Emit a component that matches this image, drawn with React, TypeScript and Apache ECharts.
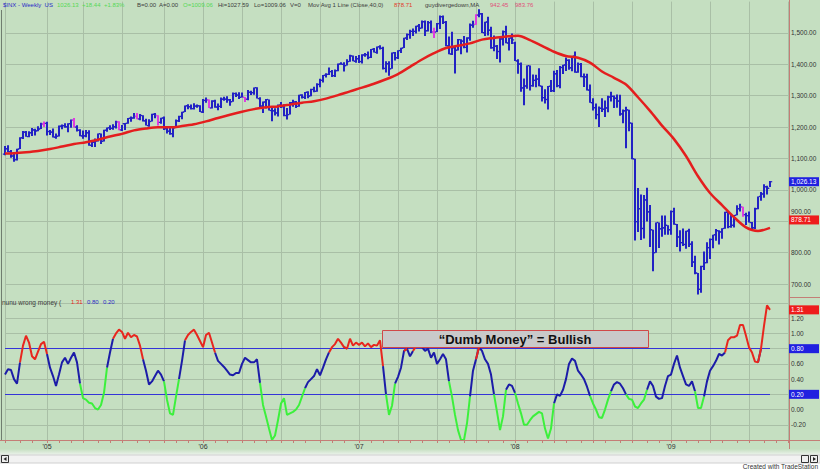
import React, { useEffect, useRef } from "react";
import * as echarts from "echarts";

// Weekly S&P 500 ($INX) bars, [open, high, low, close], week 0 = 1 Oct 2004
const bars2004 = [
  [1114, 1140, 1110, 1131], [1131, 1142, 1120, 1122], [1122, 1127, 1102, 1108], [1108, 1114, 1090, 1096],
  [1096, 1131, 1094, 1130], [1130, 1168, 1130, 1166], [1166, 1188, 1162, 1184], [1184, 1188, 1169, 1170],
  [1170, 1187, 1168, 1182], [1182, 1197, 1172, 1191], [1191, 1195, 1173, 1188], [1188, 1203, 1187, 1194],
  [1194, 1214, 1194, 1210], [1210, 1218, 1200, 1212],
];
const bars2005 = [
  [1212, 1217, 1173, 1186], [1186, 1191, 1175, 1184], [1184, 1196, 1167, 1168], [1168, 1180, 1163, 1171],
  [1171, 1205, 1170, 1203], [1203, 1208, 1193, 1205], [1205, 1212, 1198, 1201], [1201, 1212, 1184, 1211],
  [1211, 1224, 1198, 1222], [1222, 1229, 1199, 1200], [1200, 1206, 1186, 1190], [1190, 1193, 1171, 1172],
  [1172, 1189, 1163, 1172], [1172, 1191, 1168, 1182], [1182, 1190, 1141, 1142], [1142, 1159, 1137, 1152],
  [1152, 1164, 1137, 1156], [1156, 1180, 1154, 1179], [1179, 1180, 1146, 1155], [1155, 1192, 1154, 1190],
  [1190, 1199, 1185, 1198], [1198, 1206, 1191, 1196], [1196, 1209, 1192, 1201], [1201, 1220, 1196, 1217],
  [1217, 1219, 1190, 1191], [1191, 1207, 1188, 1211], [1211, 1213, 1191, 1212], [1212, 1229, 1211, 1228],
  [1228, 1234, 1217, 1229], [1229, 1245, 1227, 1234], [1234, 1245, 1225, 1226], [1226, 1242, 1222, 1237],
  [1237, 1238, 1218, 1220], [1220, 1227, 1205, 1205], [1205, 1225, 1201, 1218], [1218, 1243, 1218, 1241],
  [1241, 1245, 1228, 1237], [1237, 1238, 1205, 1215], [1215, 1230, 1211, 1229], [1229, 1234, 1191, 1195],
  [1195, 1197, 1180, 1187], [1187, 1199, 1176, 1179], [1179, 1199, 1168, 1198], [1198, 1224, 1198, 1220],
  [1220, 1236, 1216, 1234], [1234, 1249, 1225, 1248], [1248, 1269, 1248, 1268], [1268, 1273, 1257, 1265],
  [1265, 1272, 1256, 1259], [1259, 1276, 1256, 1267], [1267, 1272, 1262, 1268], [1268, 1270, 1248, 1248],
];
const bars2006 = [
  [1248, 1290, 1245, 1285], [1285, 1294, 1278, 1287], [1287, 1288, 1261, 1261], [1261, 1286, 1259, 1283],
  [1283, 1287, 1262, 1264], [1264, 1275, 1254, 1266], [1266, 1294, 1261, 1289], [1289, 1297, 1284, 1289],
  [1289, 1298, 1278, 1287], [1287, 1290, 1268, 1281], [1281, 1310, 1281, 1307], [1307, 1310, 1296, 1302],
  [1302, 1311, 1290, 1295], [1295, 1310, 1294, 1295], [1295, 1296, 1280, 1289], [1289, 1318, 1286, 1311],
  [1311, 1316, 1302, 1310], [1310, 1326, 1303, 1326], [1326, 1327, 1291, 1291], [1291, 1295, 1259, 1267],
  [1267, 1282, 1245, 1280], [1280, 1290, 1259, 1288], [1288, 1288, 1253, 1253], [1253, 1262, 1219, 1252],
  [1252, 1260, 1237, 1245], [1245, 1272, 1234, 1270], [1270, 1280, 1261, 1265], [1265, 1273, 1235, 1237],
  [1237, 1261, 1224, 1240], [1240, 1280, 1240, 1278], [1278, 1287, 1265, 1280], [1280, 1283, 1261, 1266],
  [1266, 1303, 1265, 1302], [1302, 1305, 1291, 1295], [1295, 1312, 1290, 1311], [1311, 1314, 1292, 1299],
  [1299, 1322, 1298, 1320], [1320, 1329, 1311, 1314], [1314, 1340, 1313, 1336], [1336, 1354, 1327, 1349],
  [1349, 1366, 1342, 1365], [1365, 1372, 1358, 1368], [1368, 1390, 1366, 1377], [1377, 1382, 1360, 1364],
  [1364, 1384, 1360, 1380], [1380, 1403, 1378, 1401], [1401, 1407, 1399, 1400], [1400, 1407, 1377, 1396],
  [1396, 1416, 1396, 1409], [1409, 1431, 1408, 1427], [1427, 1428, 1410, 1410], [1410, 1427, 1405, 1418],
];
const bars2007 = [
  [1418, 1430, 1404, 1409], [1409, 1432, 1403, 1430], [1430, 1436, 1424, 1431], [1431, 1441, 1416, 1422],
  [1422, 1449, 1420, 1448], [1448, 1452, 1438, 1438], [1438, 1457, 1434, 1456], [1456, 1461, 1447, 1451],
  [1451, 1456, 1384, 1387], [1387, 1410, 1374, 1402], [1402, 1410, 1364, 1386], [1386, 1438, 1386, 1437],
  [1437, 1439, 1412, 1421], [1421, 1445, 1417, 1444], [1444, 1453, 1436, 1452], [1452, 1485, 1452, 1484],
  [1484, 1498, 1478, 1495], [1495, 1510, 1482, 1505], [1505, 1514, 1490, 1505], [1505, 1523, 1498, 1522],
  [1522, 1529, 1505, 1515], [1515, 1540, 1514, 1536], [1536, 1540, 1490, 1507], [1507, 1538, 1505, 1533],
  [1533, 1540, 1500, 1503], [1503, 1517, 1484, 1503], [1503, 1532, 1503, 1530], [1530, 1556, 1513, 1552],
  [1552, 1556, 1529, 1534], [1534, 1538, 1458, 1459], [1459, 1489, 1432, 1433], [1433, 1504, 1430, 1453],
  [1453, 1455, 1371, 1445], [1445, 1481, 1444, 1479], [1479, 1480, 1432, 1474], [1474, 1490, 1451, 1454],
  [1454, 1486, 1438, 1484], [1484, 1530, 1475, 1525], [1525, 1539, 1517, 1527], [1527, 1560, 1526, 1557],
  [1557, 1576, 1550, 1561], [1561, 1564, 1500, 1501], [1501, 1536, 1490, 1535], [1535, 1552, 1492, 1509],
  [1509, 1520, 1450, 1453], [1453, 1492, 1442, 1458], [1458, 1462, 1417, 1441], [1441, 1488, 1406, 1481],
  [1481, 1508, 1460, 1504], [1504, 1523, 1467, 1468], [1468, 1485, 1444, 1484], [1484, 1498, 1465, 1478],
];
const bars2008 = [
  [1468, 1472, 1411, 1411], [1411, 1416, 1370, 1401], [1401, 1406, 1313, 1325], [1325, 1355, 1270, 1331],
  [1331, 1396, 1322, 1396], [1396, 1396, 1317, 1332], [1332, 1368, 1329, 1349], [1349, 1367, 1327, 1353],
  [1353, 1388, 1330, 1331], [1331, 1332, 1282, 1294], [1294, 1321, 1275, 1288], [1288, 1331, 1256, 1330],
  [1330, 1350, 1312, 1316], [1316, 1380, 1312, 1370], [1370, 1382, 1327, 1332], [1332, 1395, 1324, 1390],
  [1390, 1399, 1369, 1398], [1398, 1422, 1379, 1413], [1413, 1416, 1383, 1389], [1389, 1426, 1378, 1426],
  [1426, 1441, 1373, 1375], [1375, 1406, 1373, 1400], [1400, 1404, 1359, 1361], [1361, 1371, 1328, 1360],
  [1360, 1370, 1317, 1318], [1318, 1336, 1278, 1278], [1278, 1292, 1253, 1262], [1262, 1275, 1225, 1240],
  [1240, 1266, 1200, 1260], [1260, 1292, 1248, 1257], [1257, 1285, 1232, 1261], [1261, 1300, 1247, 1296],
  [1296, 1313, 1282, 1298], [1298, 1301, 1261, 1292], [1292, 1304, 1262, 1283], [1283, 1303, 1236, 1242],
  [1242, 1256, 1212, 1252], [1252, 1265, 1133, 1255], [1255, 1255, 1187, 1213], [1213, 1214, 1098, 1099],
  [1099, 1099, 839, 899], [899, 1006, 866, 940], [940, 985, 840, 877], [877, 984, 845, 968],
  [968, 1007, 899, 930], [930, 952, 818, 873], [873, 873, 741, 800], [800, 896, 800, 896],
  [896, 896, 815, 876], [876, 918, 851, 879], [879, 918, 857, 887], [887, 887, 857, 873],
];
const bars2009 = [
  [873, 934, 857, 931], [931, 943, 889, 890], [890, 891, 818, 850], [850, 871, 804, 832],
  [832, 877, 821, 826], [826, 870, 812, 869], [869, 876, 818, 827], [827, 836, 754, 770],
  [770, 790, 731, 735], [735, 735, 667, 683], [683, 758, 672, 756], [756, 804, 745, 768],
  [768, 833, 766, 816], [816, 845, 780, 842], [842, 857, 814, 857], [857, 875, 838, 870],
  [870, 871, 826, 866], [866, 878, 844, 877], [877, 930, 876, 929], [929, 930, 878, 883],
  [883, 924, 879, 887], [887, 920, 880, 919], [919, 951, 919, 940], [940, 956, 931, 946],
  [946, 946, 914, 921], [921, 927, 888, 918], [918, 931, 896, 896], [896, 898, 869, 879],
  [879, 943, 875, 940], [940, 979, 938, 979], [979, 993, 965, 987], [987, 1018, 975, 1010],
  [1010, 1013, 985, 1005], [1005, 1028, 1009, 1026],
];
// weeks whose bar is painted magenta (guydivergedown)
const magentaWeeks = [13, 23, 38, 44, 51, 68, 80, 143, 157, 246];

// 40-week moving average
const maWeeks = [0, 3, 7, 11, 15, 19, 23, 27, 31, 35, 39, 43, 47, 51, 55, 59, 63, 67, 71, 75, 79, 83, 87, 91, 95, 99, 103, 107, 111, 115, 119, 123, 127, 131, 135, 139, 143, 147, 151, 155, 159, 163, 167, 171, 175, 179, 183, 187, 191, 195, 199, 203, 207, 211, 215, 219, 223, 227, 231, 235, 239, 243, 247, 251, 255];
const maValues = [1116, 1117, 1120, 1124, 1130, 1138, 1146, 1152, 1160, 1170, 1178.5, 1189.6, 1195.6, 1199.5, 1199.4, 1203.3, 1208.9, 1218.2, 1229.3, 1239.5, 1249.0, 1257.3, 1263.2, 1266.0, 1271.7, 1277.8, 1282.4, 1290.7, 1301.9, 1314.0, 1325.7, 1338.3, 1352.5, 1369.2, 1392.1, 1415.5, 1435.6, 1452.0, 1459.2, 1466.8, 1478.8, 1484.2, 1489.1, 1491.3, 1477.5, 1458.7, 1440.2, 1426.6, 1421.1, 1405.6, 1377.4, 1357.2, 1335.7, 1295.1, 1251.7, 1204.8, 1161.7, 1107.8, 1043.5, 990.1, 951.4, 913.1, 880.5, 869.0, 878.71];

// "nunu wrong money" indicator, weekly
const wm2004 = [0.46, 0.53, 0.52, 0.40, 0.34, 0.62, 0.84, 0.97, 0.88, 0.70, 0.66, 0.76, 0.86, 0.89];
const wm2005 = [0.73, 0.55, 0.44, 0.31, 0.46, 0.62, 0.68, 0.60, 0.68, 0.75, 0.62, 0.34, 0.15, 0.13, 0.09, 0.08, 0.02, 0.00, 0.06, 0.22, 0.55, 0.75, 0.93, 1.00, 1.05, 1.02, 0.93, 1.01, 0.95, 0.98, 0.96, 0.84, 0.66, 0.51, 0.33, 0.37, 0.44, 0.51, 0.46, 0.37, 0.13, -0.05, -0.07, 0.17, 0.40, 0.64, 0.91, 0.98, 1.02, 1.05, 0.98, 0.90];
const wm2006 = [0.82, 0.98, 1.01, 0.88, 0.75, 0.64, 0.60, 0.56, 0.51, 0.46, 0.45, 0.48, 0.48, 0.60, 0.68, 0.65, 0.62, 0.62, 0.66, 0.35, 0.06, -0.09, -0.25, -0.40, -0.34, -0.14, 0.08, 0.15, -0.07, -0.05, -0.03, 0.00, 0.06, 0.17, 0.28, 0.36, 0.40, 0.44, 0.53, 0.45, 0.55, 0.66, 0.75, 0.82, 0.86, 0.93, 0.88, 0.82, 0.80, 0.93, 0.84, 0.88];
const wm2007 = [0.85, 0.88, 0.83, 0.87, 0.82, 0.85, 0.84, 0.91, 0.57, 0.20, -0.07, 0.05, 0.34, 0.43, 0.55, 0.77, 0.80, 0.70, 0.77, 0.83, 0.85, 0.82, 0.77, 0.80, 0.68, 0.75, 0.60, 0.66, 0.73, 0.66, 0.37, 0.17, -0.07, -0.27, -0.40, -0.40, -0.18, 0.17, 0.51, 0.66, 0.82, 0.77, 0.66, 0.60, 0.46, 0.20, -0.03, -0.27, -0.09, 0.26, 0.33, 0.31];
const wm2008 = [0.22, 0.08, -0.05, -0.20, -0.20, -0.14, -0.09, -0.06, -0.03, -0.05, -0.25, -0.38, -0.25, 0.08, 0.20, 0.18, 0.26, 0.40, 0.60, 0.67, 0.64, 0.51, 0.46, 0.40, 0.30, 0.18, 0.08, 0.00, -0.10, -0.11, 0.00, 0.13, 0.24, 0.33, 0.36, 0.34, 0.28, 0.20, 0.14, 0.13, 0.04, 0.02, 0.08, 0.13, 0.26, 0.37, 0.31, 0.17, 0.14, 0.15, 0.31, 0.44];
const wm2009 = [0.46, 0.60, 0.71, 0.55, 0.44, 0.33, 0.31, 0.37, 0.24, 0.02, 0.02, 0.17, 0.37, 0.51, 0.57, 0.64, 0.73, 0.71, 0.75, 0.91, 0.95, 0.95, 0.97, 1.11, 1.11, 0.97, 0.82, 0.75, 0.63, 0.62, 0.80, 1.10, 1.37, 1.31];
// colour state of the indicator (week where state starts): r = red, b = blue, g = green
const signalChanges: [number, string][] = [[0, "b"], [6, "r"], [15, "b"], [26, "g"], [35, "b"], [37, "r"], [47, "b"], [54, "g"], [59, "b"], [61, "r"], [71, "b"], [86, "g"], [101, "b"], [109, "r"], [114, "b"], [115, "r"], [127, "b"], [128, "g"], [131, "b"], [134, "r"], [135, "b"], [137, "r"], [140, "b"], [149, "g"], [156, "b"], [158, "r"], [159, "b"], [164, "g"], [168, "b"], [171, "g"], [184, "b"], [196, "g"], [203, "b"], [208, "g"], [215, "b"], [231, "g"], [234, "b"], [241, "r"], [252, "b"], [253, "r"]];
const thresholds = [0.8, 0.2];

const yearTickLabels: Record<string, string> = { "2005": "'05", "2006": "'06", "2007": "'07", "2008": "'08", "2009": "'09" };

const BG = "#c5dfc1";
const GRIDC = "#a9bfa6";
const AXISC = "#c47e76";
const BAR = "#2222c4";
const MAG = "#e03ce0";
const MAC = "#e41e1e";
const IND = { r: "#e8261e", b: "#1c1ca8", g: "#3cf03c" } as Record<string, string>;
const THC = "#3434d8";
const FONT = '"Liberation Sans", Arial, sans-serif';

export default function App() {
  const ref = useRef<HTMLDivElement>(null);
  useEffect(() => {
    const el = ref.current;
    if (!el) return;
    const chart = echarts.init(el, null, { renderer: "svg" });

    const bars = [...bars2004, ...bars2005, ...bars2006, ...bars2007, ...bars2008, ...bars2009];
    const wm = [...wm2004, ...wm2005, ...wm2006, ...wm2007, ...wm2008, ...wm2009];
    const totalWeeks = 262;
    const start = Date.UTC(2004, 9, 1);
    const dates = Array.from({ length: totalWeeks }, (_, i) => new Date(start + i * 7 * 864e5));
    const cats = dates.map((d) => d.toISOString().slice(0, 10));
    const isYear = (i: number) => !!dates[i] && dates[i].getUTCMonth() === 0 && dates[i].getUTCDate() <= 7;
    const isQuarter = (i: number) => !!dates[i] && dates[i].getUTCMonth() % 3 === 0 && dates[i].getUTCDate() <= 7;
    const isMonth = (i: number) => !!dates[i] && dates[i].getUTCDate() <= 7;

    const zone = wm.map((_, i) => {
      let z = "b";
      for (const [s, c] of signalChanges) if (i >= s) z = c;
      return z;
    });
    const indSeries = (c: string) =>
      wm.map((v, i) => (zone[i] === c || zone[i + 1] === c ? v : "-"));

    const ohlcData = bars.map((b, i) => [i, b[0], b[1], b[2], b[3], magentaWeeks.includes(i) ? 1 : 0]);
    const maData = maWeeks.map((w, k) => [w, maValues[k]]);

    const fmtPrice = (v: number) =>
      v.toLocaleString("en-US", { minimumFractionDigits: 2, maximumFractionDigits: 2 });

    const option: any = {
      animation: false,
      backgroundColor: BG,
      grid: [
        { left: 5, right: 32, top: 1.6, height: 313.8 },
        { left: 5, right: 32, top: 303, height: 137 },
      ],
      xAxis: [
        {
          type: "category", gridIndex: 0, data: cats, boundaryGap: false,
          axisLine: { show: false, onZero: false }, axisTick: { show: false }, axisLabel: { show: false },
          splitLine: { show: true, interval: (i: number) => isQuarter(i), lineStyle: { color: GRIDC, width: 1 } },
        },
        {
          type: "category", gridIndex: 1, data: cats, boundaryGap: false, position: "bottom",
          axisLine: { show: true, onZero: false, lineStyle: { color: AXISC, width: 1 } },
          axisTick: { show: true, interval: (i: number) => isMonth(i), length: 3, lineStyle: { color: AXISC } },
          axisLabel: {
            show: true, interval: (i: number) => isYear(i), fontSize: 7, color: "#333", fontFamily: FONT, margin: 3,
            formatter: (v: string) => yearTickLabels[v.slice(0, 4)] || "",
          },
          splitLine: { show: true, interval: (i: number) => isQuarter(i), lineStyle: { color: GRIDC, width: 1 } },
        },
      ],
      yAxis: [
        {
          type: "value", gridIndex: 0, position: "right", min: 600, max: 1600, interval: 100,
          axisLine: { show: false }, axisTick: { show: false },
          axisLabel: {
            fontSize: 6.5, color: "#333", fontFamily: FONT, margin: 3, showMinLabel: false, showMaxLabel: false,
            formatter: (v: number) => (v === 900 ? "" : fmtPrice(v)),
          },
          splitLine: { show: true, showMinLine: false, showMaxLine: false, lineStyle: { color: GRIDC, width: 1 } },
        },
        {
          type: "value", gridIndex: 1, position: "right", min: -0.4, max: 1.4, interval: 0.2,
          axisLine: { show: false }, axisTick: { show: false },
          axisLabel: {
            fontSize: 6.5, color: "#333", fontFamily: FONT, margin: 3, showMinLabel: false, showMaxLabel: false,
            formatter: (v: number) => (Math.abs(v) < 1e-9 ? 0 : v).toFixed(2),
          },
          splitLine: { show: true, lineStyle: { color: GRIDC, width: 1 } },
        },
      ],
      series: [
        {
          type: "custom", xAxisIndex: 0, yAxisIndex: 0, z: 3,
          dimensions: ["x", "o", "h", "l", "c", "m"],
          encode: { x: "x", y: ["o", "h", "l", "c"] },
          data: ohlcData,
          renderItem: (_p: any, api: any) => {
            const i = api.value(0);
            const o = api.coord([i, api.value(1)]);
            const h = api.coord([i, api.value(2)]);
            const l = api.coord([i, api.value(3)]);
            const c = api.coord([i, api.value(4)]);
            const color = api.value(5) ? MAG : BAR;
            const x = h[0];
            return {
              type: "group",
              children: [
                { type: "rect", shape: { x: x - 1, y: h[1], width: 2, height: Math.max(1, l[1] - h[1]) }, style: { fill: color } },
                { type: "rect", shape: { x: x - 2.2, y: o[1] - 0.6, width: 1.4, height: 1.2 }, style: { fill: color } },
                { type: "rect", shape: { x: x + 0.8, y: c[1] - 0.6, width: 1.4, height: 1.2 }, style: { fill: color } },
              ],
            };
          },
        },
        {
          type: "line", xAxisIndex: 0, yAxisIndex: 0, z: 5, data: maData, smooth: 0.3,
          symbol: "none", lineStyle: { color: MAC, width: 2.5 },
        },
        {
          type: "line", xAxisIndex: 1, yAxisIndex: 1, z: 4, data: indSeries("b"), symbol: "none",
          connectNulls: false, lineStyle: { color: IND.b, width: 2 },
          markLine: {
            silent: true, symbol: "none", label: { show: false }, z: 2,
            lineStyle: { color: THC, width: 1, type: "solid" },
            data: thresholds.map((t) => [{ coord: [0, t] }, { coord: [255, t] }]),
          },
        },
        {
          type: "line", xAxisIndex: 1, yAxisIndex: 1, z: 5, data: indSeries("g"), symbol: "none",
          connectNulls: false, lineStyle: { color: IND.g, width: 2 },
        },
        {
          type: "line", xAxisIndex: 1, yAxisIndex: 1, z: 6, data: indSeries("r"), symbol: "none",
          connectNulls: false, lineStyle: { color: IND.r, width: 2 },
        },
      ],
    };
    chart.setOption(option);

    const py = (v: number) => chart.convertToPixel({ yAxisIndex: 0 }, v) as number;
    const iy = (v: number) => chart.convertToPixel({ yAxisIndex: 1 }, v) as number;
    const lastBar = bars[bars.length - 1];
    const lastMa = maValues[maValues.length - 1];
    const lastWm = wm[wm.length - 1];

    const txt = (x: number, y: number, text: string, fill: string, size = 6, extra: any = {}) => ({
      type: "text", x, y, z: 130,
      style: { text, fill, fontSize: size, fontFamily: FONT, verticalAlign: "middle", ...extra },
    });
    const box = (y: number, label: string, fill: string) => [
      { type: "rect", z: 120, shape: { x: 789, y: y - 4.5, width: 30, height: 9 }, style: { fill } },
      txt(791, y, label, "#ffffff", 6.5),
    ];

    const header = [
      txt(3, 5, "$INX - Weekly  US", "#2a2ac8"),
      txt(57, 5, "1026.13  +18.44  +1.83%", "#56d856"),
      txt(137, 5, "B=0.00", "#3c3c3c"),
      txt(159, 5, "A=0.00", "#3c3c3c"),
      txt(183, 5, "O=1009.06", "#56d856"),
      txt(218, 5, "Hi=1027.59", "#3c3c3c"),
      txt(254, 5, "Lo=1009.06", "#3c3c3c"),
      txt(290, 5, "V=0", "#3c3c3c"),
      txt(308, 5, "Mov Avg 1 Line (Close,40,0)", "#3c3c3c"),
      txt(394, 5, "878.71", "#e23a2a"),
      txt(425, 5, "guydivergedown,MA", "#3c3c3c"),
      txt(490, 5, "942.45", "#e0507a"),
      txt(515, 5, "983.76", "#e0507a"),
      txt(2, 302, "nunu wrong money (", "#3c3c3c", 6.5),
      txt(71, 302, lastWm.toFixed(2), "#e8261e", 6),
      txt(87, 302, "0.80", "#2a2ac8", 6),
      txt(103, 302, "0.20", "#2a2ac8", 6),
    ];

    const graphic: any[] = [
      // bottom area
      {
        type: "rect", z: 110, shape: { x: 0, y: 449, width: 820, height: 7 },
        style: { fill: new echarts.graphic.LinearGradient(0, 0, 0, 1, [{ offset: 0, color: BG }, { offset: 1, color: "#f4f6f4" }]) },
      },
      { type: "rect", z: 110, shape: { x: 0, y: 456, width: 820, height: 15 }, style: { fill: "#ffffff" } },
      { type: "rect", z: 111, shape: { x: 0, y: 455, width: 820, height: 8 }, style: { fill: "#f2f2f2", stroke: "#d0d0d0", lineWidth: 1 } },
      { type: "rect", z: 112, shape: { x: 1.5, y: 455.5, width: 7, height: 7 }, style: { fill: "#eeeeee", stroke: "#333", lineWidth: 1 } },
      { type: "polygon", z: 113, shape: { points: [[3.5, 459], [6.5, 457], [6.5, 461]] }, style: { fill: "#222" } },
      { type: "rect", z: 112, shape: { x: 801.5, y: 455.5, width: 7, height: 7 }, style: { fill: "#eeeeee", stroke: "#333", lineWidth: 1 } },
      { type: "rect", z: 112, shape: { x: 810.5, y: 455.5, width: 7, height: 7 }, style: { fill: "#eeeeee", stroke: "#333", lineWidth: 1 } },
      { type: "polygon", z: 113, shape: { points: [[816, 459], [813, 457], [813, 461]] }, style: { fill: "#222" } },
      txt(818, 466.5, "Created with TradeStation", "#333333", 6.5, { align: "right" }),
      // borders
      { type: "line", z: 115, shape: { x1: 789.5, y1: 0, x2: 789.5, y2: 449 }, style: { stroke: AXISC, lineWidth: 1 } },
      { type: "line", z: 115, shape: { x1: 789, y1: 297.5, x2: 820, y2: 297.5 }, style: { stroke: AXISC, lineWidth: 1 } },
      { type: "line", z: 115, shape: { x1: 0, y1: 440.5, x2: 820, y2: 440.5 }, style: { stroke: AXISC, lineWidth: 1 } },
      { type: "line", z: 115, shape: { x1: 1.5, y1: 10, x2: 1.5, y2: 440 }, style: { stroke: "#6f7d6f", lineWidth: 1 } },
      // annotation
      { type: "rect", z: 125, shape: { x: 382.5, y: 330.5, width: 266, height: 17 }, style: { fill: "#c9c9c9", stroke: "#d04848", lineWidth: 1 } },
      txt(515, 339.5, "\u201cDumb Money\u201d = Bullish", "#111111", 13, { align: "center", fontWeight: "bold" }),
      // right-axis value boxes
      ...box(py(lastBar[3]), fmtPrice(lastBar[3] + 0.13), "#2020e0"),
      txt(791, py(900) - 10, fmtPrice(900), "#333333", 6.5),
      ...box(py(lastMa) - 8, lastMa.toFixed(2), "#ee1c1c"),
      ...box(iy(lastWm), lastWm.toFixed(2), "#ee1c1c"),
      ...thresholds.map((t) => box(iy(t), t.toFixed(2), "#2020e0")).flat(),
      ...header,
    ];
    chart.setOption({ graphic });

    return () => chart.dispose();
  }, []);
  return <div ref={ref} style={{ position: "fixed", left: 0, top: 0, width: 820, height: 471, background: BG }} />;
}
